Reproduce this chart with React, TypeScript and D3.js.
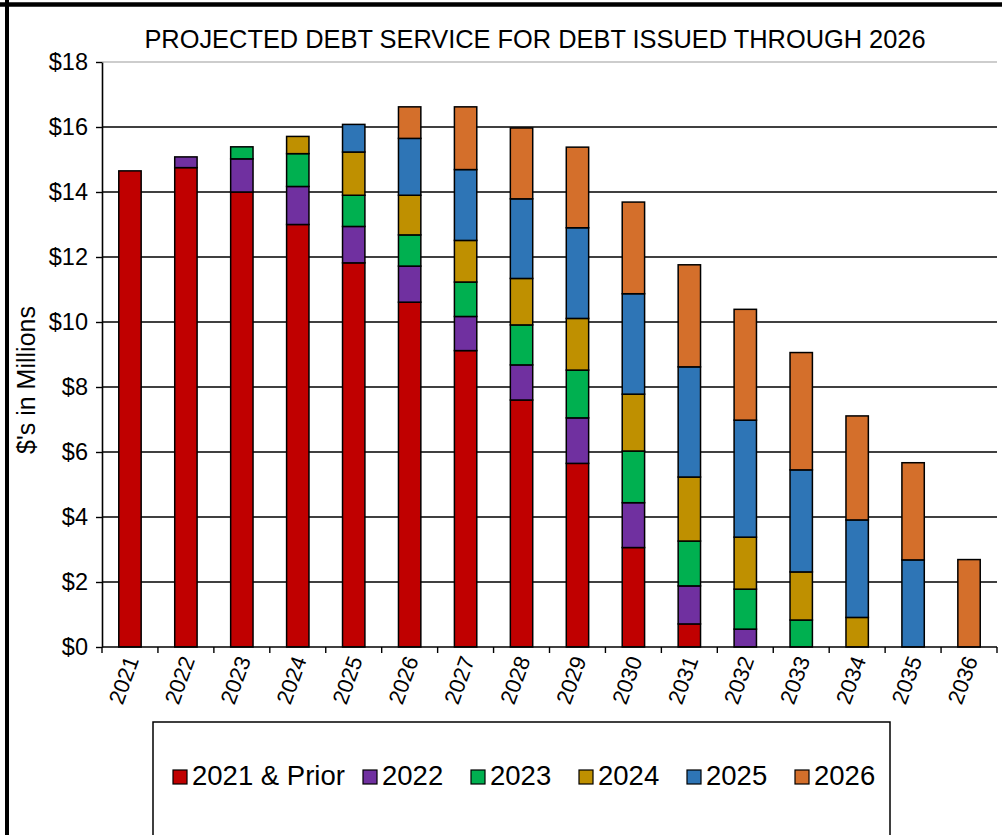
import React, { useEffect, useRef } from "react";
import * as d3 from "d3";

const years = ["2021","2022","2023","2024","2025","2026","2027","2028","2029","2030","2031","2032","2033","2034","2035","2036"];
const seriesNames = ["2021 & Prior","2022","2023","2024","2025","2026"];
const seriesColors = ["#C00000","#7030A0","#00B050","#BF9000","#2E75B6","#D46F2B"];
const s2021Prior = [14.65,14.75,14.0,13.0,11.82,10.61,9.12,7.6,5.65,3.06,0.71,0,0,0,0,0];
const s2022 = [0,0.33,1.02,1.17,1.12,1.11,1.05,1.08,1.4,1.38,1.17,0.55,0,0,0,0];
const s2023 = [0,0,0.37,1.01,0.96,0.96,1.06,1.23,1.47,1.59,1.38,1.23,0.83,0,0,0];
const s2024 = [0,0,0,0.53,1.33,1.22,1.28,1.43,1.59,1.75,1.97,1.6,1.48,0.91,0,0];
const s2025 = [0,0,0,0,0.85,1.75,2.18,2.45,2.79,3.09,3.39,3.6,3.14,3.0,2.68,0];
const s2026 = [0,0,0,0,0,0.97,1.93,2.18,2.48,2.82,3.14,3.41,3.61,3.2,2.99,2.69];
const yTicks = [0,2,4,6,8,10,12,14,16,18];
const title = "PROJECTED DEBT SERVICE FOR DEBT ISSUED THROUGH 2026";
const yTitle = "$'s in Millions";

const W = 1002, H = 835;
const FONT = "'Liberation Sans', Arial, sans-serif";

export default function App() {
  const ref = useRef<SVGSVGElement>(null);
  useEffect(() => {
    const svg = d3.select(ref.current);
    svg.selectAll("*").remove();
    const left = 102, right = 997, top = 62, bottom = 647;
    const allSeries = [s2021Prior, s2022, s2023, s2024, s2025, s2026];
    const table = years.map((y, i) => {
      const row: any = { year: y };
      seriesNames.forEach((n, k) => (row[n] = allSeries[k][i]));
      return row;
    });
    const stacked = d3.stack().keys(seriesNames)(table as any);
    const x = d3.scaleBand().domain(years).range([left, right]).paddingInner(0.6).paddingOuter(0.3);
    const y = d3.scaleLinear().domain([0, 18]).range([bottom, top]);

    svg.append("rect").attr("width", W).attr("height", H).attr("fill", "#fff");
    // outer frame
    svg.append("line").attr("x1", 7).attr("x2", 7).attr("y1", 0).attr("y2", H).attr("stroke", "#000").attr("stroke-width", 4);
    svg.append("line").attr("x1", 0).attr("x2", W).attr("y1", 4.5).attr("y2", 4.5).attr("stroke", "#000").attr("stroke-width", 4.5);

    // title
    svg.append("text").attr("x", 535).attr("y", 48).attr("text-anchor", "middle")
      .attr("font-family", FONT).attr("font-size", 25.4).attr("fill", "#000").text(title);

    // gridlines
    yTicks.forEach((t) => {
      if (t === 0) return;
      svg.append("line").attr("x1", left).attr("x2", right).attr("y1", y(t)).attr("y2", y(t))
        .attr("stroke", t === 18 ? "#bdbdbd" : "#000").attr("stroke-width", 1.4);
    });

    // y axis
    const yAxis = d3.axisLeft(y).tickValues(yTicks).tickSize(6).tickSizeOuter(0).tickPadding(8).tickFormat((d: any) => `$${d}`);
    const gy = svg.append("g").attr("transform", `translate(${left},0)`).call(yAxis as any);
    gy.select(".domain").attr("stroke", "#000").attr("stroke-width", 1.6);
    gy.selectAll(".tick line").attr("stroke", "#000").attr("stroke-width", 1.4);
    gy.selectAll(".tick text").attr("font-family", FONT).attr("font-size", 23.5).attr("fill", "#000");

    // y title
    svg.append("text").attr("transform", `translate(35,380) rotate(-90)`).attr("text-anchor", "middle")
      .attr("font-family", FONT).attr("font-size", 25).attr("fill", "#000").text(yTitle);

    // bars
    stacked.forEach((layer, k) => {
      svg.append("g").selectAll("rect").data(layer.filter((d) => d[1] - d[0] > 0)).enter().append("rect")
        .attr("x", (d: any) => x(d.data.year)!)
        .attr("width", x.bandwidth())
        .attr("y", (d) => y(d[1]))
        .attr("height", (d) => y(d[0]) - y(d[1]))
        .attr("fill", seriesColors[k]).attr("stroke", "#000").attr("stroke-width", 1.5);
    });

    // x axis
    svg.append("line").attr("x1", left).attr("x2", right).attr("y1", bottom).attr("y2", bottom).attr("stroke", "#000").attr("stroke-width", 1.6);
    const step = x.step();
    const x0 = x(years[0])! - x.paddingOuter() * step;
    for (let i = 0; i <= years.length; i++) {
      const xx = x0 + i * step;
      svg.append("line").attr("x1", xx).attr("x2", xx).attr("y1", bottom).attr("y2", bottom + 6).attr("stroke", "#000").attr("stroke-width", 1.4);
    }
    years.forEach((yr) => {
      const cx = x(yr)! + x.bandwidth() / 2;
      svg.append("text").attr("transform", `translate(${cx + 2},${bottom + 10}) rotate(-70)`).attr("text-anchor", "end")
        .attr("dy", "0.35em")
        .attr("font-family", FONT).attr("font-size", 22).attr("fill", "#000").text(yr);
    });

    // legend
    svg.append("rect").attr("x", 153).attr("y", 722).attr("width", 737).attr("height", 115).attr("fill", "#fff").attr("stroke", "#000").attr("stroke-width", 1.5);
    const markerX = [173, 363, 471, 579, 687, 795];
    seriesNames.forEach((n, k) => {
      const lx = markerX[k];
      svg.append("rect").attr("x", lx).attr("y", 770).attr("width", 14).attr("height", 14)
        .attr("fill", seriesColors[k]).attr("stroke", "#000").attr("stroke-width", 1.2);
      svg.append("text").attr("x", lx + 19).attr("y", 785).attr("font-family", FONT).attr("font-size", 27.5).attr("fill", "#000").text(n);
    });
  }, []);
  return (
    <svg ref={ref} width={W} height={H} style={{ position: "absolute", left: 0, top: 0, display: "block" }} />
  );
}
